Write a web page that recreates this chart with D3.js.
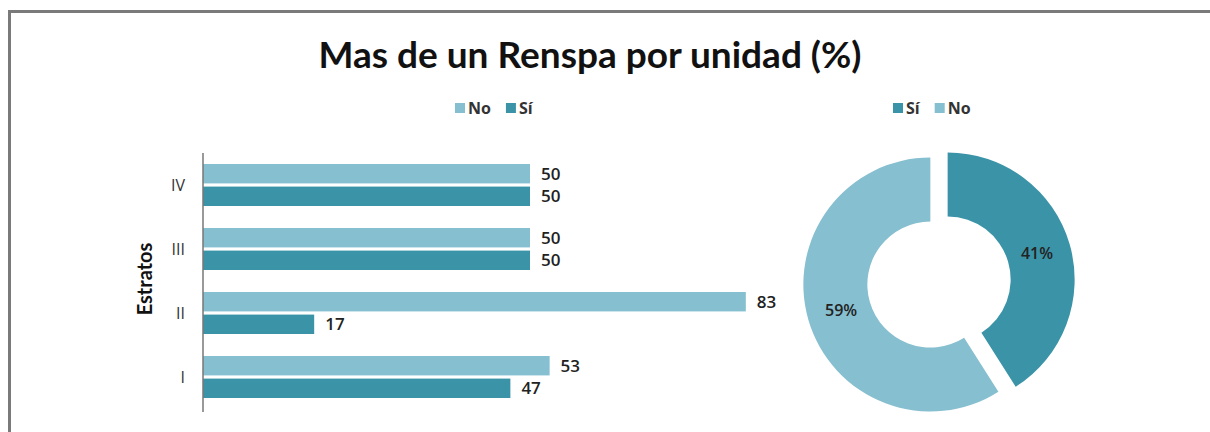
<!DOCTYPE html>
<html><head><meta charset="utf-8">
<script src="https://cdn.jsdelivr.net/npm/d3@7"></script>
<style>html,body{margin:0;padding:0;background:#fff;}svg{display:block;}</style>
</head><body>
<script>
const title = "Mas de un Renspa por unidad (%)";
const categories = ["IV", "III", "II", "I"];
const seriesNames = ["No", "Sí"];
const noValues = [50, 50, 83, 53];
const siValues = [50, 50, 17, 47];
const pieLabels = ["Sí", "No"];
const pieValues = [41, 59];
const axisTitle = "Estratos";

const W = 1210, H = 432;
const cLight = "#86bfd0", cDark = "#3b93a8";
const colorOf = {"No": cLight, "Sí": cDark};

const svg = d3.select("body").append("svg").attr("width", W).attr("height", H);
svg.append("rect").attr("width", W).attr("height", H).attr("fill", "#fff");
// frame
svg.append("path").attr("d", `M9.5,${H} V11.5 H${W}`).attr("fill", "none")
  .attr("stroke", "#7a7a7a").attr("stroke-width", 3);

svg.append("text").attr("x", 590).attr("y", 68).attr("text-anchor", "middle")
  .attr("font-family", "Lato").attr("font-weight", 700).attr("font-size", 37)
  .attr("fill", "#111").text(title);

// ---- bar chart
const x = d3.scaleLinear().domain([0, 50]).range([203, 530]);
const y = d3.scaleBand().domain(categories).range([153, 409]).paddingInner(0).paddingOuter(0);
const sub = d3.scaleBand().domain(seriesNames).range([0, 42]).paddingInner(0.14);
const g = svg.append("g");
const data = categories.map((c, i) => ({c, vals: [{s: "No", v: noValues[i]}, {s: "Sí", v: siValues[i]}]}));
const grp = g.selectAll("g.cat").data(data).join("g")
  .attr("transform", d => `translate(0,${y(d.c) + y.bandwidth() / 2 - 21})`);
grp.selectAll("rect").data(d => d.vals).join("rect")
  .attr("x", x(0)).attr("y", d => sub(d.s)).attr("height", sub.bandwidth())
  .attr("width", d => x(d.v) - x(0)).attr("fill", d => colorOf[d.s]);
grp.selectAll("text").data(d => d.vals).join("text")
  .attr("x", d => x(d.v) + 11).attr("y", d => sub(d.s) + sub.bandwidth() / 2 + 6)
  .attr("font-family", "Open Sans").attr("font-weight", 600).attr("font-size", 17)
  .attr("fill", "#222").text(d => d.v);

const yAxis = g.append("g").attr("transform", `translate(${x(0)},0)`)
  .call(d3.axisLeft(y).tickSize(0).tickPadding(18));
yAxis.select(".domain").attr("stroke", "#777").attr("stroke-width", 1.5)
  .attr("d", `M0,${y.range()[0]}V${y.range()[1] + 3}`);
yAxis.selectAll("text").attr("font-family", "Open Sans").attr("font-size", 16)
  .attr("fill", "#333").attr("dy", "0.35em");

svg.append("text").attr("transform", "translate(152,279) rotate(-90)")
  .attr("text-anchor", "middle").attr("font-family", "Lato").attr("font-weight", 700)
  .attr("font-size", 20).attr("fill", "#111").text(axisTitle);

// legends
function legend(x0, y0, names) {
  let cx = x0;
  names.forEach(n => {
    svg.append("rect").attr("x", cx).attr("y", y0 - 5).attr("width", 10).attr("height", 10).attr("fill", colorOf[n]);
    const t = svg.append("text").attr("x", cx + 13).attr("y", y0 + 6)
      .attr("font-family", "Open Sans").attr("font-weight", 700).attr("font-size", 16)
      .attr("fill", "#333").text(n);
    cx += 13 + t.node().getComputedTextLength() + 15;
  });
}
legend(455, 108, ["No", "Sí"]);
legend(893, 108, ["Sí", "No"]);

// ---- donut
const cx = 939, cy = 282, R = 127, r = 63, off = 9;
const pie = d3.pie().sort(null).value(d => d.v);
const pd = pie(pieLabels.map((l, i) => ({l, v: pieValues[i]})));
const arc = d3.arc().innerRadius(r).outerRadius(R);
const dg = svg.append("g").attr("transform", `translate(${cx},${cy})`);
const sl = dg.selectAll("g").data(pd).join("g").attr("transform", d => {
  const a = (d.startAngle + d.endAngle) / 2;
  return `translate(${off * Math.sin(a)},${-off * Math.cos(a)})`;
});
sl.append("path").attr("d", arc).attr("fill", d => colorOf[d.data.l]);
sl.append("text").attr("transform", d => `translate(${d3.arc().innerRadius((R + r) / 2 - 2).outerRadius((R + r) / 2 - 2).centroid(d)})`)
  .attr("text-anchor", "middle").attr("dy", "0.35em")
  .attr("font-family", "Open Sans").attr("font-weight", 600).attr("font-size", 16)
  .attr("fill", "#222").text(d => d.data.v + "%");
</script>
</body></html>
